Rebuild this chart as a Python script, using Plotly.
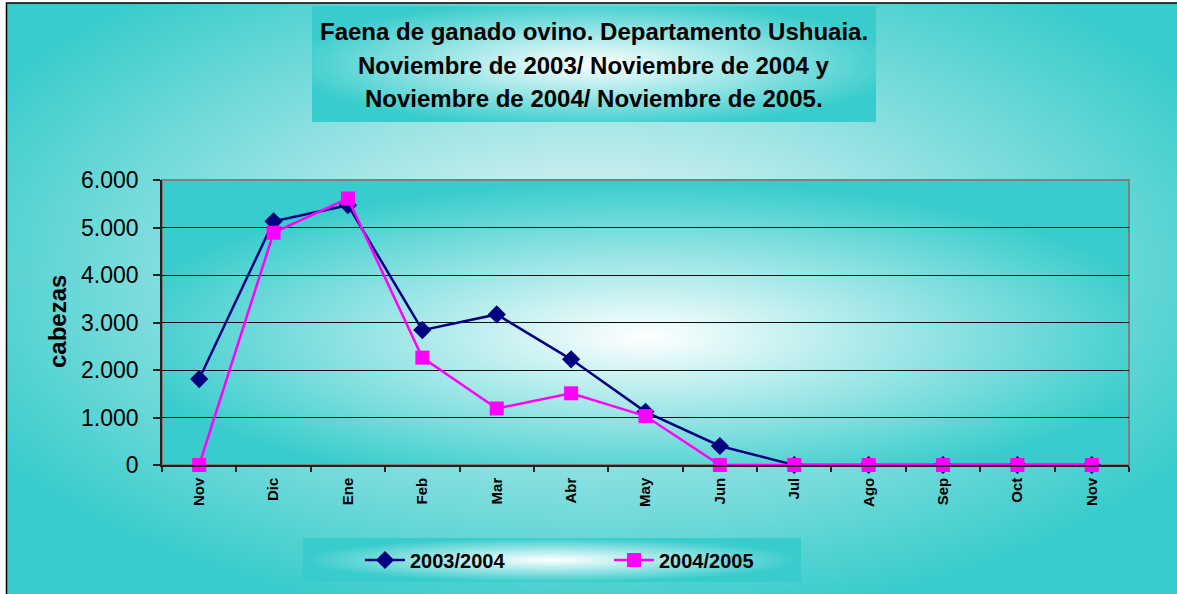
import base64
import plotly.graph_objects as go

# ---------------- data ----------------
meses = ["Nov", "Dic", "Ene", "Feb", "Mar", "Abr", "May", "Jun", "Jul", "Ago", "Sep", "Oct", "Nov"]
serie_2003_2004 = [1810, 5130, 5470, 2840, 3170, 2225, 1120, 400, 0, 0, 0, 0, 0]
serie_2004_2005 = [0, 4890, 5610, 2260, 1190, 1510, 1030, 0, 0, 0, 0, 0, 0]
nombres = ["2003/2004", "2004/2005"]
titulo = [
    "Faena de ganado ovino. Departamento Ushuaia.",
    "Noviembre de 2003/ Noviembre de 2004 y",
    "Noviembre de 2004/ Noviembre de 2005.",
]
y_ticks = [0, 1000, 2000, 3000, 4000, 5000, 6000]

# ---------------- geometry (pixels) ----------------
W, H = 1177, 594
PL, PR, PT, PB = 162, 1129, 180, 465
PW, PH = PR - PL, PB - PT
CYAN = "#38CCCC"
FONT = "Liberation Sans, Arial, sans-serif"


def fx(x):
    return (x - PL) / PW


def fy(y):
    return (PB - y) / PH


def grad_svg(w, h, cx=0.5, cy=0.5, r=0.5, inner="#FFFFFF", mid=None):
    stops = "<stop offset='0' stop-color='%s'/>" % inner
    if mid:
        stops += "<stop offset='%s' stop-color='%s'/>" % (mid[0], mid[1])
    stops += "<stop offset='1' stop-color='%s'/>" % CYAN
    svg = (
        "<svg xmlns='http://www.w3.org/2000/svg' width='%d' height='%d' viewBox='0 0 %d %d' "
        "preserveAspectRatio='none'><defs><radialGradient id='g' cx='%s' cy='%s' r='%s'>%s"
        "</radialGradient></defs><rect x='0' y='0' width='%d' height='%d' fill='url(#g)'/></svg>"
        % (w, h, w, h, cx, cy, r, stops, w, h)
    )
    return "data:image/svg+xml;base64," + base64.b64encode(svg.encode()).decode()


def img(x0, y0, x1, y1, **kw):
    w, h = x1 - x0, y1 - y0
    return dict(
        source=grad_svg(int(w), int(h), **kw),
        xref="paper", yref="paper",
        x=fx(x0), y=fy(y0), sizex=w / PW, sizey=h / PH,
        xanchor="left", yanchor="top", sizing="stretch", layer="below",
    )


x_idx = list(range(len(meses)))

fig = go.Figure()
fig.add_trace(go.Scatter(
    x=x_idx, y=serie_2003_2004, name="<b>%s</b>" % nombres[0], mode="lines+markers",
    line=dict(color="#000080", width=2.5),
    marker=dict(symbol="diamond", size=14, color="#000080"),
    cliponaxis=False,
))
fig.add_trace(go.Scatter(
    x=x_idx, y=serie_2004_2005, name="<b>%s</b>" % nombres[1], mode="lines+markers",
    line=dict(color="#FF00FF", width=2.5),
    marker=dict(symbol="square", size=14, color="#FF00FF"),
    cliponaxis=False,
))

images = [
    img(6.5, 3, 1180, 597, cx=0.5, cy=0.45, r=0.6, mid=(0.2, "#D0F0F0")),
    img(PL, PT, PR, PB, cx=0.5, cy=0.55, r=0.55),
    img(312, 6, 876, 122, r=0.55),
    img(303, 538, 801, 582, r=0.5),
]

shapes = [
    dict(type="rect", xref="paper", yref="paper", x0=fx(6.5), x1=fx(1185), y0=fy(3), y1=fy(600),
         line=dict(color="black", width=1.5), fillcolor="rgba(0,0,0,0)", layer="below"),
    dict(type="rect", xref="paper", yref="paper", x0=0, x1=1, y0=0, y1=1,
         line=dict(color="#808080", width=2), fillcolor="rgba(0,0,0,0)", layer="below"),
]

annotations = []
for i, t in enumerate(titulo):
    annotations.append(dict(
        text="<b>%s</b>" % t, xref="paper", yref="paper", x=fx(594), y=fy(32 + 33 * i),
        xanchor="center", yanchor="middle", showarrow=False,
        font=dict(family=FONT, size=24, color="black"),
    ))
annotations.append(dict(
    text="<b>cabezas</b>", xref="paper", yref="paper", x=fx(57), y=fy(322),
    xanchor="center", yanchor="middle", showarrow=False, textangle=-90,
    font=dict(family=FONT, size=24, color="black"),
))

fig.update_layout(
    width=W, height=H,
    margin=dict(l=PL, r=W - PR, t=PT, b=H - PB, pad=0),
    paper_bgcolor="white", plot_bgcolor="rgba(0,0,0,0)",
    separators=",.",
    images=images, shapes=shapes, annotations=annotations,
    showlegend=True,
    legend=dict(
        orientation="h", x=fx(360), y=fy(560), xanchor="left", yanchor="middle",
        bgcolor="rgba(0,0,0,0)", font=dict(family=FONT, size=20, color="black"),
        entrywidth=194, itemwidth=40,
    ),
    font=dict(family=FONT, color="black"),
)

fig.update_xaxes(
    range=[-0.5, len(meses) - 0.5], tickmode="array", tickvals=x_idx,
    ticktext=["<b>%s</b>" % m for m in meses],
    tickangle=-90, tickfont=dict(family=FONT, size=15, color="black"),
    ticks="", showgrid=False, zeroline=False,
    showline=True, linecolor="#222222", linewidth=1.5,
    minor=dict(tickmode="linear", tick0=0.5, dtick=1, ticks="outside", ticklen=5,
               tickcolor="#222222", tickwidth=1.5, showgrid=False),
    ticklabelstandoff=5,
)
fig.update_yaxes(
    range=[0, 6000], tickmode="array", tickvals=y_ticks, tickformat=",d",
    tickfont=dict(family=FONT, size=23, color="black"),
    ticks="outside", ticklen=7, tickcolor="#222222", tickwidth=1.5,
    showgrid=True, gridcolor="#111111", gridwidth=1, zeroline=False,
    showline=True, linecolor="#222222", linewidth=1.5,
    ticklabelstandoff=10,
)

fig.write_html("out.html", config={"displayModeBar": False},
               post_script="document.body.style.margin='0';")
